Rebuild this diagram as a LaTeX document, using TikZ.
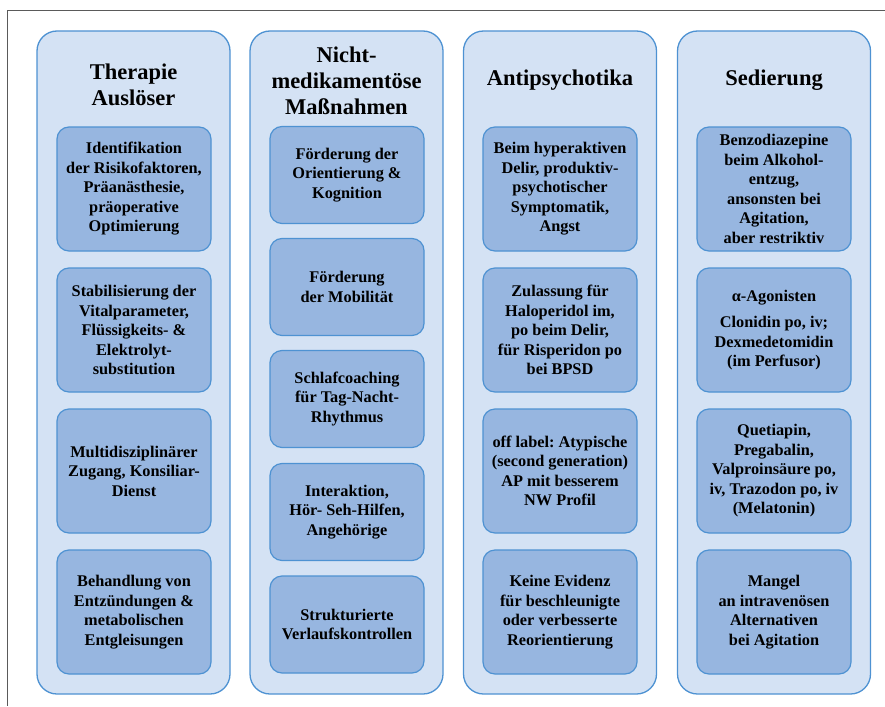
\documentclass[tikz,border=0pt]{standalone}
\usepackage{fontspec}
\setmainfont{Liberation Serif}
\usepackage{xcolor}
\usepackage{tikz}
\usetikzlibrary{positioning}
\definecolor{delirframe}{HTML}{5A5A5A}
\definecolor{delirline}{HTML}{4E92D2}
\definecolor{delirlight}{HTML}{D4E2F4}
\definecolor{delirmid}{HTML}{97B6E0}
\frenchspacing

\tikzset{
  column/.style={draw=delirline, fill=delirlight, line width=1.3pt,
    rounded corners=20pt, minimum width=193pt, minimum height=663pt,
    inner sep=0pt},
  coltitle/.style={font=\bfseries\fontsize{22.5}{26}\selectfont, align=center},
  itembox/.style={draw=delirline, fill=delirmid, line width=1.2pt,
    rounded corners=12pt, minimum width=154pt, minimum height=124pt,
    inner sep=0pt, align=center, font=\bfseries\fontsize{16.3}{19.5}\selectfont},
  smallbox/.style={itembox, minimum height=97pt}
}

\begin{document}
\begin{tikzpicture}[x=1pt, y=-1pt]
        \useasboundingbox (0,0) rectangle (885,706);
        % Frame (top and left only)
        \draw[delirframe, line width=1pt] (885,11) -- (7,11) -- (7,706);
        % Column 1: Therapie Ausloeser
        \node[column] (col1) at (133.5,362.5) {};
        \node[coltitle] (t1) at (133.5,85) {Therapie\\Auslöser};
        \node[itembox] (a1) at (134,189)
          {Identifikation\\der Risikofaktoren,\\Präanästhesie,\\präoperative\\Optimierung};
        \node[itembox] (a2) at (134,330)
          {Stabilisierung der\\Vitalparameter,\\Flüssigkeits- \&\\Elektrolyt-\\substitution};
        \node[itembox] (a3) at (134,471)
          {Multidisziplinärer\\Zugang, Konsiliar-\\Dienst};
        \node[itembox] (a4) at (134,612)
          {Behandlung von\\Entzündungen \&\\metabolischen\\Entgleisungen};
        % Column 2: Nicht-medikamentoese Massnahmen
        \node[column] (col2) at (346.5,362.5) {};
        \node[coltitle] (t2) at (346.5,81) {Nicht-\\medikamentöse\\Maßnahmen};
        \node[smallbox] (b1) at (347,175)
          {Förderung der\\Orientierung \&\\Kognition};
        \node[smallbox] (b2) at (347,287)
          {Förderung\\der Mobilität};
        \node[smallbox] (b3) at (347,399)
          {Schlafcoaching\\für Tag-Nacht-\\Rhythmus};
        \node[smallbox] (b4) at (347,512)
          {Interaktion,\\Hör- Seh-Hilfen,\\Angehörige};
        \node[smallbox] (b5) at (347,624.5)
          {Strukturierte\\Verlaufskontrollen};
        % Column 3: Antipsychotika
        \node[column] (col3) at (560,362.5) {};
        \node[coltitle] (t3) at (560,80) {Antipsychotika};
        \node[itembox] (c1) at (560,189)
          {Beim hyperaktiven\\Delir, produktiv-\\psychotischer\\Symptomatik,\\Angst};
        \node[itembox] (c2) at (560,330)
          {Zulassung für\\Haloperidol im,\\po beim Delir,\\für Risperidon po\\bei BPSD};
        \node[itembox] (c3) at (560,471)
          {off label: Atypische\\(second generation)\\AP mit besserem\\NW Profil};
        \node[itembox] (c4) at (560,612)
          {Keine Evidenz\\für beschleunigte\\oder verbesserte\\Reorientierung};
        % Column 4: Sedierung
        \node[column] (col4) at (774,362.5) {};
        \node[coltitle] (t4) at (774,80) {Sedierung};
        \node[itembox] (d1) at (774,189)
          {Benzodiazepine\\beim Alkohol-\\entzug,\\ansonsten bei\\Agitation,\\aber restriktiv};
        \node[itembox] (d2) at (774,330)
          {α-Agonisten\\[7pt]Clonidin po, iv;\\Dexmedetomidin\\(im Perfusor)};
        \node[itembox] (d3) at (774,471)
          {Quetiapin,\\Pregabalin,\\Valproinsäure po,\\iv, Trazodon po, iv\\(Melatonin)};
        \node[itembox] (d4) at (774,612)
          {Mangel\\an intravenösen\\Alternativen\\bei Agitation};
      \end{tikzpicture}
\end{document}
